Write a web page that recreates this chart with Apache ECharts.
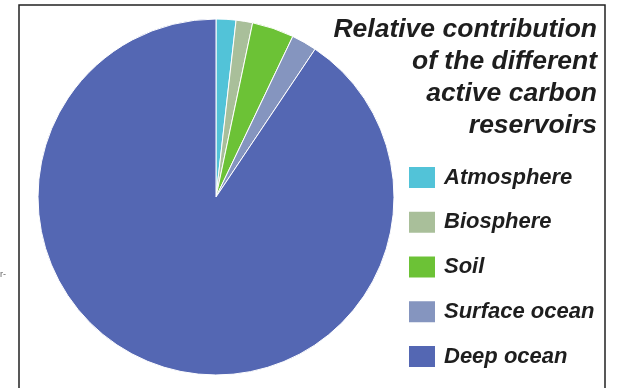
<!DOCTYPE html>
<html>
<head>
<meta charset="utf-8">
<script src="https://cdn.jsdelivr.net/npm/echarts@6/dist/echarts.min.js"></script>
<style>
  html, body { margin: 0; padding: 0; background: #ffffff; }
  #chart { width: 619px; height: 388px; }
</style>
</head>
<body>
<div id="chart"></div>
<script>
// Carbon reservoirs and their share (%) of the active carbon pool
const reservoirs = ['Atmosphere', 'Biosphere', 'Soil', 'Surface ocean', 'Deep ocean'];
const shares = [1.8, 1.5, 3.8, 2.3, 90.6];
const colors = ['#52c3d8', '#a9bf9a', '#6cc236', '#8595bf', '#5467b3'];
const titleLines = ['Relative contribution', 'of the different', 'active carbon', 'reservoirs'];

const font = '"Liberation Sans", Arial, Helvetica, sans-serif';
const chart = echarts.init(document.getElementById('chart'), null, { renderer: 'canvas' });

chart.setOption({
  backgroundColor: '#ffffff',
  animation: false,
  color: colors,
  legend: {
    orient: 'vertical',
    left: 407,
    top: 165,
    padding: 0,
    icon: 'rect',
    itemWidth: 28,
    itemHeight: 23,
    itemGap: 19.75,
    selectedMode: false,
    data: reservoirs,
    textStyle: {
      fontFamily: font,
      fontSize: 22,
      lineHeight: 23,
      fontWeight: 'bold',
      fontStyle: 'italic',
      color: '#1e1e1e',
      padding: [0, 0, 0, 3]
    }
  },
  graphic: [
    {
      type: 'polyline',
      shape: { points: [[19, 400], [19, 5], [605, 5], [605, 400]] },
      style: { stroke: '#222', lineWidth: 1.5, fill: null },
      silent: true
    },
    {
      // chart heading, right-aligned in the upper right corner
      type: 'text',
      x: 597,
      y: 14,
      silent: true,
      style: {
        text: titleLines.join('\n'),
        align: 'right',
        verticalAlign: 'top',
        fontFamily: font,
        fontSize: 26.5,
        fontWeight: 'bold',
        fontStyle: 'italic',
        lineHeight: 32,
        fill: '#1e1e1e'
      }
    },
    {
      type: 'text',
      x: 0,
      y: 270,
      silent: true,
      style: { text: 'r-', fontSize: 9, fill: '#666', fontFamily: font }
    }
  ],
  series: [{
    type: 'pie',
    center: [216, 197],
    radius: 178,
    startAngle: 90,
    clockwise: true,
    label: { show: false },
    labelLine: { show: false },
    emphasis: { disabled: true },
    itemStyle: { borderColor: '#ffffff', borderWidth: 1 },
    data: reservoirs.map((name, i) => ({ name: name, value: shares[i] }))
  }]
});
</script>
</body>
</html>
